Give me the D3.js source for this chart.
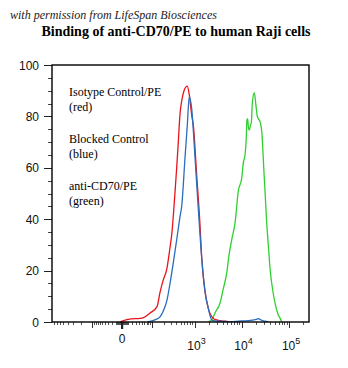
<!DOCTYPE html>
<html>
<head>
<meta charset="utf-8">
<script src="https://cdn.jsdelivr.net/npm/d3@7"></script>
<style>
  body { margin: 0; background: #fff; }
  svg { display: block; }
</style>
</head>
<body>
<svg id="chart" width="348" height="368"></svg>
<script>
// Histogram series: [fluorescence intensity, % of max]
const isotype = [
  [-3, 0], [0, 0.3], [17, 1.2], [43, 1.4], [54, 1.6], [89, 3.5], [137, 6], [163, 11.5],
  [193, 16], [241, 21], [284, 29], [311, 34], [370, 50.5], [404, 60], [439, 70],
  [480, 81], [523, 86], [589, 90], [696, 91.8], [770, 88.3], [868, 80.5], [941, 76.6],
  [1115, 57], [1313, 37.7], [1428, 25], [1681, 11.8], [1977, 5.3], [2527, 1.4],
  [3000, 0.8], [3506, 0.5], [4474, 0.3], [5700, 0]
];
const blocked = [
  [77, 0], [121, 0.8], [163, 2], [193, 4], [241, 8.5], [284, 15], [338, 23], [404, 32],
  [480, 41], [523, 45], [620, 64], [696, 76.6], [770, 87.7], [868, 83], [1024, 64],
  [1207, 44], [1428, 25], [1681, 12], [1977, 5.3], [2336, 0.8], [2746, 0.4], [3506, 0.3],
  [4474, 0.2], [5700, 0.1], [7280, 0.2], [10085, 0.4], [13890, 0.5], [17000, 0.7],
  [20170, 1.0], [22760, 1.3], [24470, 1.0], [26960, 0.6], [31180, 0.3], [36550, 0]
];
const antiCD70 = [
  [1977, 0], [2371, 1], [2746, 3.5], [3506, 7.4], [4120, 13], [4860, 19], [5437, 26],
  [6200, 32], [7280, 38.5], [8550, 51], [10085, 56], [10900, 62], [11830, 65],
  [12540, 71], [12980, 78.6], [13490, 79], [13890, 76], [14580, 74.7], [15600, 77],
  [16060, 77.5], [16850, 85], [18570, 89.2], [20170, 84], [21470, 80], [22760, 79],
  [24470, 78], [26960, 73], [27900, 68], [29700, 58], [31180, 51], [33850, 38.5],
  [36550, 30], [39680, 21], [46570, 11], [50590, 7.4], [58500, 3], [64490, 1.5], [70000, 0]
];

const yTicks = [0, 20, 40, 60, 80, 100];
const xLabelValues = [0, 1000, 10000, 100000];
const xLabelBases = ["0", "10", "10", "10"];
const xLabelExponents = ["", "3", "4", "5"];

const legendNames = ["Isotype Control/PE", "Blocked Control", "anti-CD70/PE"];
const legendColours = ["(red)", "(blue)", "(green)"];

const subtitle = "with permission from LifeSpan Biosciences";
const title = "Binding of anti-CD70/PE to human Raji cells";

const seriesColours = { isotype: "#e8141c", blocked: "#2a6ebd", anti: "#2fcf2f" };

const svg = d3.select("#chart");
const plotLeft = 52, plotRight = 309, plotTop = 65, plotBottom = 322;

// Biexponential-like display: symmetric log with a small linear zone around 0
const x = d3.scaleSymlog().constant(31).domain([-890, 262144]).range([plotLeft, plotRight]);
const y = d3.scaleLinear().domain([0, 100]).range([plotBottom, plotTop]);

// Header texts
svg.append("text")
  .attr("x", 10).attr("y", 19)
  .attr("font-family", "Liberation Serif, serif")
  .attr("font-style", "italic")
  .attr("font-size", 12)
  .attr("fill", "#222")
  .text(subtitle);

svg.append("text")
  .attr("x", 176).attr("y", 36)
  .attr("text-anchor", "middle")
  .attr("font-family", "Liberation Serif, serif")
  .attr("font-weight", "bold")
  .attr("font-size", 14)
  .attr("fill", "#000")
  .text(title);

// Y axis ticks
const yMinor = d3.range(0, 101, 5).filter(v => v % 20 !== 0);
svg.append("g").selectAll("line").data(yMinor).join("line")
  .attr("x1", plotLeft - 4).attr("x2", plotLeft)
  .attr("y1", d => Math.round(y(d)) + 0.5).attr("y2", d => Math.round(y(d)) + 0.5)
  .attr("stroke", "#444").attr("stroke-width", 1);
svg.append("g").selectAll("line").data(yTicks).join("line")
  .attr("x1", plotLeft - 8).attr("x2", plotLeft)
  .attr("y1", d => Math.round(y(d)) + 0.5).attr("y2", d => Math.round(y(d)) + 0.5)
  .attr("stroke", "#222").attr("stroke-width", 1);
svg.append("g").selectAll("text").data(yTicks).join("text")
  .attr("x", 39).attr("y", d => y(d) + 4.5)
  .attr("text-anchor", "end")
  .attr("font-family", "Liberation Sans, Arial, sans-serif")
  .attr("font-size", 12)
  .attr("fill", "#111")
  .text(d => d);

// X axis ticks (decade-based minors on both sides of zero)
const xMinor = [];
[1, 10, 100, 1000, 10000, 100000].forEach(p => {
  for (let k = 1; k <= 9; k++) {
    const v = k * p;
    if (v <= 262144) xMinor.push(v);
    if (-v >= -890) xMinor.push(-v);
  }
});
const xMajor = [-100, 100, 1000, 10000, 100000];
svg.append("g").selectAll("line").data(xMinor.filter(v => !xMajor.includes(v))).join("line")
  .attr("x1", d => Math.round(x(d)) + 0.5).attr("x2", d => Math.round(x(d)) + 0.5)
  .attr("y1", plotBottom).attr("y2", plotBottom + 3)
  .attr("stroke", "#555").attr("stroke-width", 1);
svg.append("g").selectAll("line").data(xMajor).join("line")
  .attr("x1", d => Math.round(x(d)) + 0.5).attr("x2", d => Math.round(x(d)) + 0.5)
  .attr("y1", plotBottom).attr("y2", plotBottom + 6)
  .attr("stroke", "#333").attr("stroke-width", 1);
svg.append("line")
  .attr("x1", x(0)).attr("x2", x(0))
  .attr("y1", plotBottom).attr("y2", plotBottom + 7)
  .attr("stroke", "#222").attr("stroke-width", 2.2);

const xl = svg.append("g").selectAll("text").data(xLabelValues).join("text")
  .attr("x", d => x(d) + (d === 0 ? 0 : 2))
  .attr("y", d => d === 0 ? 343 : 350)
  .attr("text-anchor", "middle")
  .attr("font-family", "Liberation Sans, Arial, sans-serif")
  .attr("font-size", 12)
  .attr("fill", "#111");
xl.append("tspan").text((d, i) => xLabelBases[i]);
xl.append("tspan")
  .attr("dy", -6)
  .attr("font-size", 9)
  .text((d, i) => xLabelExponents[i]);

// Histogram outlines
svg.append("clipPath").attr("id", "plot-clip")
  .append("rect").attr("x", plotLeft).attr("y", plotTop)
  .attr("width", plotRight - plotLeft).attr("height", plotBottom - plotTop);

const line = d3.line()
  .x(d => x(d[0]))
  .y(d => y(d[1]))
  .curve(d3.curveMonotoneX);

const curves = svg.append("g").attr("clip-path", "url(#plot-clip)");
curves.append("path").datum(antiCD70)
  .attr("d", line).attr("fill", "none")
  .attr("stroke", seriesColours.anti).attr("stroke-width", 1.3);
curves.append("path").datum(isotype)
  .attr("d", line).attr("fill", "none")
  .attr("stroke", seriesColours.isotype).attr("stroke-width", 1.3);
curves.append("path").datum(blocked)
  .attr("d", line).attr("fill", "none")
  .attr("stroke", seriesColours.blocked).attr("stroke-width", 1.3);

// Plot frame
svg.append("rect")
  .attr("x", plotLeft).attr("y", plotTop)
  .attr("width", plotRight - plotLeft).attr("height", plotBottom - plotTop)
  .attr("fill", "none").attr("stroke", "#000").attr("stroke-width", 1.4);

// Legend text
const legendBase = [96, 143, 190];
const legend = svg.append("g")
  .attr("font-family", "Liberation Serif, serif")
  .attr("font-size", 12)
  .attr("fill", "#000");
legendNames.forEach((name, i) => {
  legend.append("text").attr("x", 69).attr("y", legendBase[i]).text(name);
  legend.append("text").attr("x", 69).attr("y", legendBase[i] + 15).text(legendColours[i]);
});
</script>
</body>
</html>
